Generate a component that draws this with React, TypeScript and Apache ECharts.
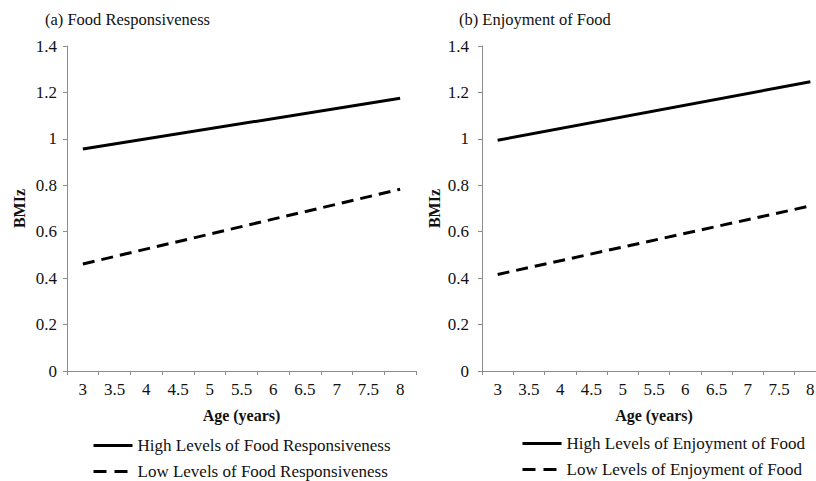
import React, { useEffect, useRef } from "react";
import * as echarts from "echarts";

const ageCategories = ["3", "3.5", "4", "4.5", "5", "5.5", "6", "6.5", "7", "7.5", "8"];
const panelTitles = ["(a) Food Responsiveness", "(b) Enjoyment of Food"];
const highFRNames = "High Levels of Food Responsiveness";
const lowFRNames = "Low Levels of Food Responsiveness";
const highEFNames = "High Levels of Enjoyment of Food";
const lowEFNames = "Low Levels of Enjoyment of Food";
// [age, BMIz] endpoints
const highFR: [string, number][] = [["3", 0.956], ["8", 1.175]];
const lowFR: [string, number][] = [["3", 0.461], ["8", 0.783]];
const highEF: [string, number][] = [["3", 0.994], ["8", 1.246]];
const lowEF: [string, number][] = [["3", 0.416], ["8", 0.711]];

const FONT = "'Liberation Serif', 'Times New Roman', serif";
const AXIS_COLOR = "#8c8c8c";
const TXT = "#111";

export default function App() {
  const ref = useRef<HTMLDivElement>(null);
  useEffect(() => {
    if (!ref.current) return;
    const chart = echarts.init(ref.current, null, { renderer: "svg" });
    const xAxisBase = (gridIndex: number) => ({
      type: "category",
      gridIndex,
      data: ageCategories,
      boundaryGap: true,
      name: "Age (years)",
      nameLocation: "middle",
      nameGap: 36,
      nameTextStyle: { fontFamily: FONT, fontSize: 16, fontWeight: "bold", color: TXT },
      axisLine: { lineStyle: { color: AXIS_COLOR, width: 1 } },
      axisTick: { show: true, length: 4, lineStyle: { color: AXIS_COLOR } },
      axisLabel: { fontFamily: FONT, fontSize: 17, color: TXT, margin: 10, hideOverlap: false },
      splitLine: { show: false },
    });
    const yAxisBase = (gridIndex: number, margin: number) => ({
      type: "value",
      gridIndex,
      min: 0,
      max: 1.4,
      interval: 0.2,
      name: "BMIz",
      nameLocation: "middle",
      nameRotate: 90,
      nameGap: 40,
      nameTextStyle: { fontFamily: FONT, fontSize: 16, fontWeight: "bold", color: TXT },
      axisLine: { show: true, lineStyle: { color: AXIS_COLOR, width: 1 } },
      axisTick: { show: true, length: 4, lineStyle: { color: AXIS_COLOR } },
      axisLabel: { fontFamily: FONT, fontSize: 17, color: TXT, margin },
      splitLine: { show: false },
    });
    const solid = { color: "#000", width: 3, type: "solid" };
    const dashed = { color: "#000", width: 3, type: [12, 7] };
    const makeLegend = (left: number, top: number, names: string[]) => ({
      orient: "vertical",
      left,
      top,
      height: 60,
      padding: 0,
      itemWidth: 39,
      itemHeight: 14,
      itemGap: 9,
      itemStyle: { opacity: 0 },
      textStyle: { fontFamily: FONT, fontSize: 17, color: TXT },
      data: [
        { name: names[0], lineStyle: { width: 3, type: "solid", color: "#000" } },
        { name: names[1], lineStyle: { width: 3, type: [13, 8], color: "#000" } },
      ],
    });
    chart.setOption({
      animation: false,
      backgroundColor: "#fff",
      title: [
        { text: panelTitles[0], left: 40, top: 6, textStyle: { fontFamily: FONT, fontSize: 16.5, fontWeight: "normal", color: TXT } },
        { text: panelTitles[1], left: 454, top: 6, textStyle: { fontFamily: FONT, fontSize: 16.5, fontWeight: "normal", color: TXT } },
      ],
      grid: [
        { left: 67, top: 46, width: 349, height: 325, outerBoundsMode: "none", containLabel: false },
        { left: 482, top: 46, width: 344, height: 325, outerBoundsMode: "none", containLabel: false },
      ],
      xAxis: [xAxisBase(0), xAxisBase(1)],
      yAxis: [yAxisBase(0, 10), yAxisBase(1, 13)],
      legend: [
        makeLegend(92, 437, [highFRNames, lowFRNames]),
        makeLegend(521, 435, [highEFNames, lowEFNames]),
      ],
      series: [
        { name: highFRNames, type: "line", xAxisIndex: 0, yAxisIndex: 0, data: highFR, symbol: "none", lineStyle: solid, itemStyle: { color: "#000" } },
        { name: lowFRNames, type: "line", xAxisIndex: 0, yAxisIndex: 0, data: lowFR, symbol: "none", lineStyle: dashed, itemStyle: { color: "#000" } },
        { name: highEFNames, type: "line", xAxisIndex: 1, yAxisIndex: 1, data: highEF, symbol: "none", lineStyle: solid, itemStyle: { color: "#000" } },
        { name: lowEFNames, type: "line", xAxisIndex: 1, yAxisIndex: 1, data: lowEF, symbol: "none", lineStyle: dashed, itemStyle: { color: "#000" } },
      ],
    });
    return () => chart.dispose();
  }, []);
  return <div ref={ref} style={{ width: 816, height: 481, position: "absolute", left: 0, top: 0 }} />;
}
